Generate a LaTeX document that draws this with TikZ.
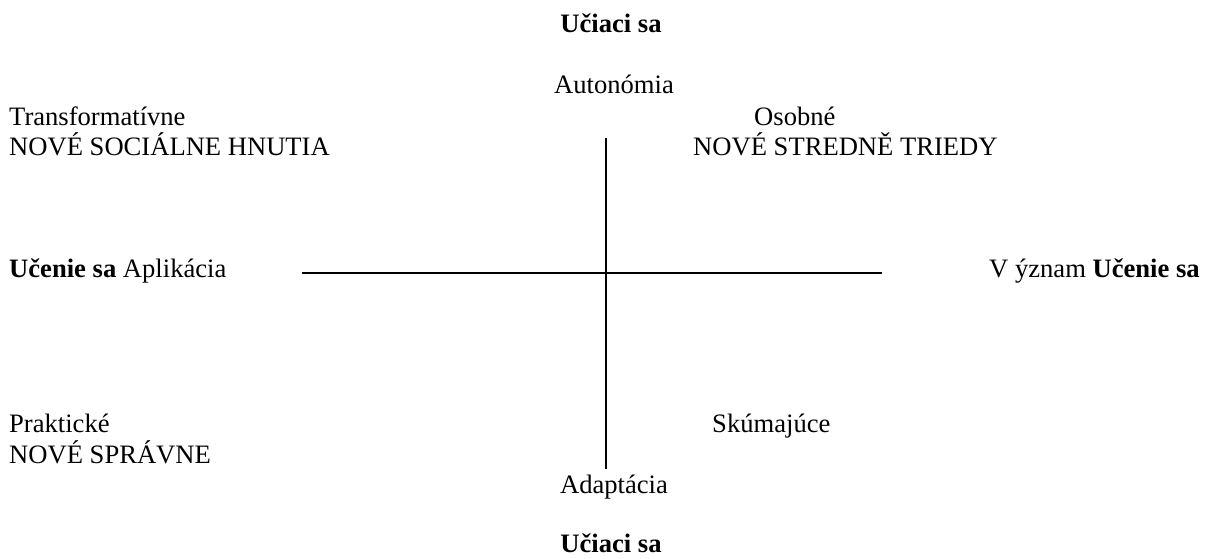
\documentclass[tikz,border=0pt]{standalone}
\usepackage{fontspec}
\setmainfont{Liberation Serif}
\begin{document}
\begin{tikzpicture}[x=1pt,y=-1pt,
  lbl/.style={inner sep=0pt,font=\fontsize{26.6}{30.6}\selectfont},
  axis/.style={line width=1.6pt}]
\useasboundingbox (0,0) rectangle (1206,558);
\node[lbl,anchor=base] (topL) at (611,32) {\textbf{Učiaci sa}};
\node[lbl,anchor=base] (auto) at (614,93) {Autonómia};
\node[lbl,anchor=base west] (transf) at (9,125) {Transformatívne};
\node[lbl,anchor=base west] (nsh) at (9,155) {NOVÉ SOCIÁLNE HNUTIA};
\node[lbl,anchor=base west] (osob) at (754,125) {Osobné};
\node[lbl,anchor=base west] (nst) at (693,155) {NOVÉ STREDNĚ TRIEDY};
\node[lbl,anchor=base west] (apl) at (9,277) {\textbf{Učenie sa} Aplikácia};
\node[lbl,anchor=base west] (vyz) at (989,277) {V ýznam \textbf{Učenie sa}};
\node[lbl,anchor=base west] (prak) at (9,432) {Praktické};
\node[lbl,anchor=base west] (nsp) at (9,463) {NOVÉ SPRÁVNE};
\node[lbl,anchor=base west] (skum) at (712,432) {Skúmajúce};
\node[lbl,anchor=base] (adap) at (614,493) {Adaptácia};
\node[lbl,anchor=base] (botL) at (611,552) {\textbf{Učiaci sa}};
\coordinate (vt) at (606,138);
\coordinate (vb) at (606,469);
\coordinate (hl) at (302,273);
\coordinate (hr) at (882,273);
\draw[axis] (vt) -- (vb);
\draw[axis] (hl) -- (hr);
\end{tikzpicture}
\end{document}
